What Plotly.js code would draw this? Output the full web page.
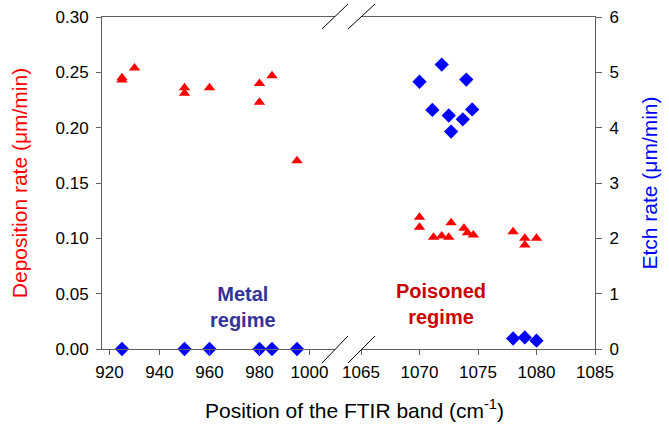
<!DOCTYPE html>
<html>
<head>
<meta charset="utf-8">
<script src="https://cdn.plot.ly/plotly-3.0.1.min.js"></script>
<style>html,body{margin:0;padding:0;background:#fff;}#chart{width:669px;height:426px;}</style>
</head>
<body>
<div id="chart"></div>
<script>
// Metal regime (left x segment)
const metalDepX = [925, 925, 930, 950, 950, 960, 980, 980, 985, 995];
const metalDepY = [0.245, 0.243, 0.254, 0.236, 0.231, 0.236, 0.240, 0.223, 0.247, 0.170];
const metalEtchX = [925, 950, 960, 980, 985, 995];
const metalEtchY = [0, 0, 0, 0, 0, 0];

// Poisoned regime (right x segment)
const poisDepX = [1070, 1070, 1071.2, 1071.9, 1072.5, 1072.7, 1073.8, 1074.1, 1074.6, 1078, 1079, 1079, 1080];
const poisDepY = [0.119, 0.110, 0.101, 0.102, 0.101, 0.114, 0.109, 0.105, 0.103, 0.106, 0.100, 0.094, 0.100];
const poisEtchX = [1070, 1071.1, 1071.9, 1072.5, 1072.7, 1073.7, 1074.0, 1074.5, 1078, 1079, 1080];
const poisEtchY = [4.83, 4.32, 5.14, 4.22, 3.93, 4.15, 4.87, 4.33, 0.19, 0.21, 0.15];

const leftTicks = [920, 940, 960, 980, 1000];
const rightTicks = [1065, 1070, 1075, 1080, 1085];
const depTicks = [0, 0.05, 0.10, 0.15, 0.20, 0.25, 0.30];
const etchTicks = [0, 1, 2, 3, 4, 5, 6];

const FONT = 'Liberation Sans, Arial, sans-serif';
const AX = '#606060';

const tri = {symbol: 'triangle-up', size: 10, color: '#FF0000'};
const dia = {symbol: 'diamond', size: 11, color: '#0000FF'};

const traces = [
  {x: metalDepX, y: metalDepY, xaxis: 'x', yaxis: 'y', mode: 'markers', marker: tri, cliponaxis: false},
  {x: poisDepX, y: poisDepY, xaxis: 'x2', yaxis: 'y', mode: 'markers', marker: tri, cliponaxis: false},
  {x: metalEtchX, y: metalEtchY, xaxis: 'x', yaxis: 'y2', mode: 'markers', marker: dia, cliponaxis: false},
  {x: poisEtchX, y: poisEtchY, xaxis: 'x2', yaxis: 'y2', mode: 'markers', marker: dia, cliponaxis: false}
];

const L = 102, R = 74, T = 17, B = 77;
const W = 669 - L - R, H = 426 - T - B;
const px = v => (v - L) / W;
const py = v => (426 - B - v) / H;

const commonX = {
  showline: true, linecolor: AX, linewidth: 1, mirror: true,
  ticks: 'outside', ticklen: 5, tickcolor: AX, tickwidth: 1,
  showgrid: false, zeroline: false, tickmode: 'array', ticklabelstandoff: 3,
  tickfont: {family: FONT, size: 17, color: '#000'}
};

const slash = (x0, y0, x1, y1) => ({type: 'line', xref: 'paper', yref: 'paper',
  x0: px(x0), y0: py(y0), x1: px(x1), y1: py(y1), line: {color: '#000', width: 1}});

const layout = {
  width: 669, height: 426,
  margin: {l: L, r: R, t: T, b: B},
  paper_bgcolor: '#fff', plot_bgcolor: '#fff',
  showlegend: false,
  xaxis: Object.assign({}, commonX, {domain: [0, px(334.5)], range: [917, 1010], tickvals: leftTicks, anchor: 'y'}),
  xaxis2: Object.assign({}, commonX, {domain: [px(361), 1], range: [1065, 1085], tickvals: rightTicks, anchor: 'y'}),
  yaxis: {
    range: [0, 0.30], tickvals: depTicks, tickformat: '.2f', anchor: 'x', side: 'left',
    showline: true, linecolor: AX, linewidth: 1, ticks: 'outside', ticklen: 5, tickcolor: AX,
    showgrid: false, zeroline: false, ticklabelstandoff: 4,
    tickfont: {family: FONT, size: 17, color: '#000'},
    title: {text: 'Deposition rate (μm/min)', font: {family: FONT, size: 21, color: '#FF0000'}, standoff: 22}
  },
  yaxis2: {
    range: [0, 6], tickvals: etchTicks, anchor: 'x2', overlaying: 'y', side: 'right',
    showline: true, linecolor: AX, linewidth: 1, ticks: 'outside', ticklen: 6, tickcolor: AX,
    showgrid: false, zeroline: false, ticklabelstandoff: 4,
    tickfont: {family: FONT, size: 17, color: '#000'},
    title: {text: 'Etch rate (μm/min)', font: {family: FONT, size: 21, color: '#0000FF'}, standoff: 24}
  },
  shapes: [
    slash(322, 363, 348, 336), slash(348, 363, 375, 336),
    slash(322, 29, 348, 4), slash(348, 29, 375, 4)
  ],
  annotations: [
    {xref: 'paper', yref: 'paper', x: px(354), y: py(409), showarrow: false,
     text: 'Position of the FTIR band (cm<sup>-1</sup>)', font: {family: FONT, size: 21, color: '#000'}, yanchor: 'middle'},
    {xref: 'x', yref: 'y', x: 973.5, y: 0.038, showarrow: false, text: '<b>Metal<br>regime</b>',
     font: {family: FONT, size: 20, color: '#333399'}},
    {xref: 'x2', yref: 'y', x: 1071.8, y: 0.041, showarrow: false, text: '<b>Poisoned<br>regime</b>',
     font: {family: FONT, size: 20, color: '#CC0000'}}
  ]
};

Plotly.newPlot('chart', traces, layout, {displayModeBar: false, staticPlot: true});
</script>
</body>
</html>
